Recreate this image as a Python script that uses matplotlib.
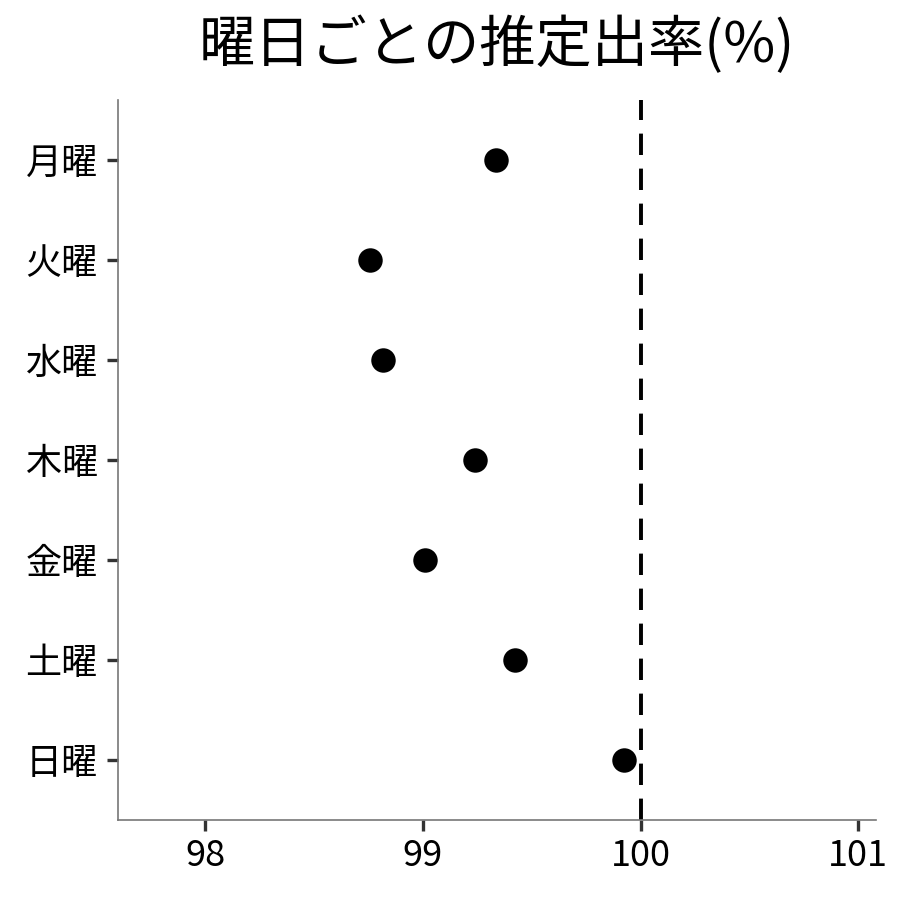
import matplotlib

matplotlib.use("Agg")
import matplotlib.pyplot as plt

# weekday labels (top to bottom) and estimated rate in %
days = ["月曜", "火曜", "水曜", "木曜", "金曜", "土曜", "日曜"]
rates = [99.335, 98.757, 98.817, 99.239, 99.009, 99.422, 99.922]
x_ticks = [98, 99, 100, 101]
ref_value = 100

plt.rcParams["font.family"] = ["Noto Sans CJK JP", "DejaVu Sans"]

fig = plt.figure(figsize=(9, 9), dpi=100)
ax = fig.add_axes([0.131, 0.089, 0.842, 0.800])

ypos = list(range(len(days)))
ax.scatter(rates, ypos, s=310, color="black", zorder=3, linewidths=0)
ax.axvline(ref_value, color="black", lw=2.8, ls=(0, (5.5, 3.5)), zorder=2)

ax.set_xlim(97.6, 101.08)
ax.set_ylim(len(days) - 0.4, -0.6)
ax.set_yticks(ypos)
ax.set_yticklabels(days)
ax.set_xticks(x_ticks)
ax.set_xticklabels([str(v) for v in x_ticks])

for side in ("top", "right"):
    ax.spines[side].set_visible(False)
for side in ("left", "bottom"):
    ax.spines[side].set_color("#777777")
    ax.spines[side].set_linewidth(1.2)

ax.tick_params(axis="both", direction="out", length=8, width=2.4,
               color="#333333", labelsize=26, pad=5)
ax.tick_params(axis="y", pad=6.5)

fig.suptitle("曜日ごとの推定出率(%)", fontsize=40.5, x=0.552, y=0.982, va="top")

fig.savefig("out.png", dpi=100)
